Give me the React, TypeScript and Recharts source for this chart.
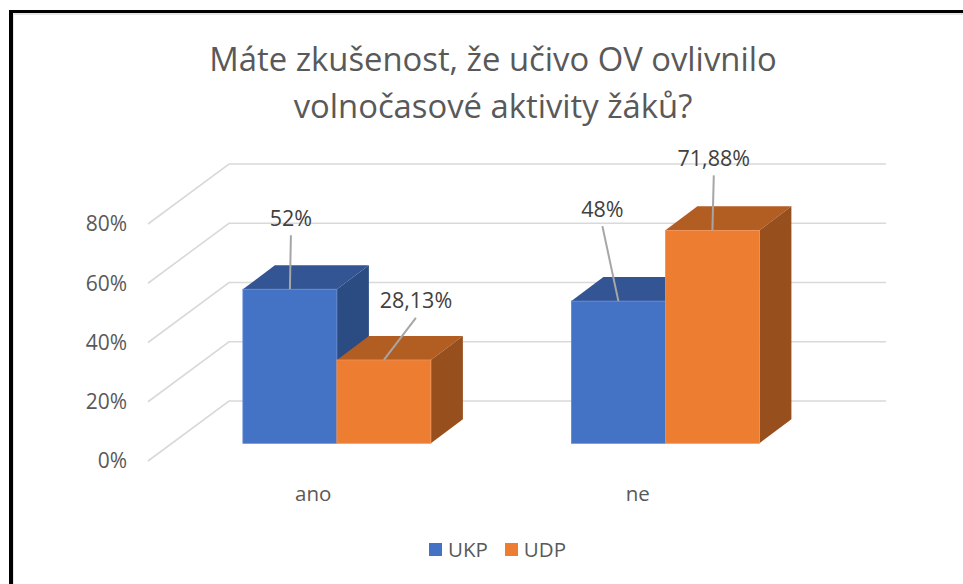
import { BarChart, Bar, XAxis, YAxis, CartesianGrid, Legend, LabelList } from 'recharts';

const categories = ['ano', 'ne'];
const ukp = [52, 48];
const udp = [28.13, 71.88];
const yTicks = [0, 20, 40, 60, 80];

const data = categories.map((name, i) => ({ name, UKP: ukp[i], UDP: udp[i] }));

const FONT = '"Open Sans", sans-serif';

// depth of the walls and of the bars, in px
const WALL_DX = 81;
const WALL_DY = 60;
const BAR_SHIFT_X = 24.6;
const BAR_SHIFT_Y = 17.7;
const BAR_DX = 32;
const BAR_DY = 24;
const GRID_END = 886;

function GridLine(props: any) {
  const { x1, y1 } = props;
  const points = `${x1},${y1} ${x1 + WALL_DX},${y1 - WALL_DY} ${GRID_END},${y1 - WALL_DY}`;
  return <polyline key={y1} points={points} fill="none" stroke="#d9d9d9" strokeWidth={1.6} />;
}

function makeBox(front: string, top: string, side: string, edge: string) {
  return function Box(props: any) {
    const { width: w, height: h } = props;
    const x = props.x + BAR_SHIFT_X;
    const y = props.y - BAR_SHIFT_Y;
    return (
      <g>
        <polygon
          points={`${x},${y} ${x + BAR_DX},${y - BAR_DY} ${x + w + BAR_DX},${y - BAR_DY} ${x + w},${y}`}
          fill={top}
        />
        <polygon
          points={`${x + w},${y} ${x + w + BAR_DX},${y - BAR_DY} ${x + w + BAR_DX},${y + h - BAR_DY} ${x + w},${y + h}`}
          fill={side}
        />
        <rect x={x} y={y} width={w} height={h} fill={front} stroke={edge} strokeWidth={0.8} />
      </g>
    );
  };
}

// where each label sits relative to the top of its bar
const ukpLabelPos = [
  { dx: 1, dy: -72 },
  { dx: -16, dy: -93 },
];
const udpLabelPos = [
  { dx: 32, dy: -60 },
  { dx: 1.4, dy: -73 },
];

function makeLabel(positions: { dx: number; dy: number }[]) {
  return function BarLabel(props: any) {
    const box = props.viewBox ?? props;
    const { value, index } = props;
    const cx = box.x + box.width / 2 + BAR_SHIFT_X;
    const top = box.y - BAR_SHIFT_Y;
    const { dx, dy } = positions[index];
    return (
      <g>
        <line x1={cx} y1={top} x2={cx + dx} y2={top + dy + 18} stroke="#a6a6a6" strokeWidth={2} />
        <text
          x={cx + dx}
          y={top + dy}
          textAnchor="middle"
          dominantBaseline="central"
          fontFamily={FONT}
          fontSize={21.5}
          fill="#404040"
        >
          {String(value).replace('.', ',')}%
        </text>
      </g>
    );
  };
}

// the category labels sit a little off the band centres
const tickNudge = [1, -3];

function CategoryTick(props: any) {
  const { x, y, payload, index } = props;
  return (
    <text x={x + tickNudge[index]} y={y} textAnchor="middle" dominantBaseline="central" fontFamily={FONT} fontSize={20.5} fill="#595959">
      {payload.value}
    </text>
  );
}

function LegendBox({ payload }: any) {
  return (
    <div style={{ display: 'flex', fontFamily: FONT, fontSize: 20.5, color: '#595959', lineHeight: '24px' }}>
      {(payload ?? []).map((p: any) => (
        <div key={p.value} style={{ display: 'flex', alignItems: 'center', marginRight: 17 }}>
          <span style={{ width: 13, height: 13, background: p.color, marginRight: 6 }} />
          {p.value}
        </div>
      ))}
    </div>
  );
}

export default function App() {
  return (
    <div style={{ position: 'absolute', left: 0, top: 0, width: 963, height: 584, overflow: 'hidden', background: '#fff' }}>
      <div
        style={{
          position: 'absolute',
          left: 9,
          top: 10,
          width: 1000,
          height: 700,
          borderLeft: '4px solid #000',
          borderTop: '3px solid #000',
          boxShadow: 'inset 1px 2px 0 #e6e6e6',
        }}
      />
      <div
        style={{
          position: 'absolute',
          left: 18,
          top: 35,
          width: 950,
          textAlign: 'center',
          fontFamily: FONT,
          fontSize: 32.8,
          lineHeight: '47px',
          color: '#595959',
        }}
      >
        Máte zkušenost, že učivo OV ovlivnilo
        <br />
        volnočasové aktivity žáků?
      </div>
      <div style={{ position: 'absolute', left: 0, top: 0 }}>
        <BarChart
          width={963}
          height={584}
          data={data}
          margin={{ top: 224, right: 158, bottom: 83, left: 0 }}
          barCategoryGap="21.4%"
          barGap={0}
        >
          <CartesianGrid vertical={false} horizontal={GridLine} />
          <XAxis
            dataKey="name"
            axisLine={false}
            tickLine={false}
            height={40}
            tickMargin={26}
            tick={CategoryTick}
          />
          <YAxis
            width={148}
            domain={[0, 80]}
            ticks={yTicks}
            axisLine={false}
            tickLine={false}
            tickSize={0}
            tickMargin={21}
            tickFormatter={(v: number) => `${v}%`}
            tick={{ fontFamily: FONT, fontSize: 21, fill: '#595959' }}
          />
          <Legend
            layout="horizontal"
            align="center"
            verticalAlign="middle"
            itemSorter={null}
            content={LegendBox}
            wrapperStyle={{ left: 429, top: 537, width: 200, height: 24 }}
          />
          <Bar dataKey="UKP" fill="#4472c4" isAnimationActive={false} shape={makeBox('#4472c4', '#335593', '#2b4b83', '#6289cf')}>
            <LabelList dataKey="UKP" content={makeLabel(ukpLabelPos)} />
          </Bar>
          <Bar dataKey="UDP" fill="#ed7d31" isAnimationActive={false} shape={makeBox('#ed7d31', '#b25d22', '#974f1d', '#f0935a')}>
            <LabelList dataKey="UDP" content={makeLabel(udpLabelPos)} />
          </Bar>
        </BarChart>
      </div>
    </div>
  );
}
